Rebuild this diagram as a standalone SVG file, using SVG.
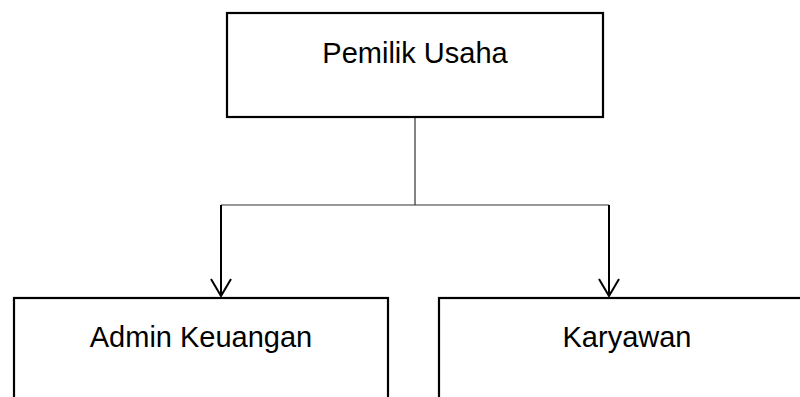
<svg xmlns="http://www.w3.org/2000/svg" width="800" height="397" viewBox="0 0 800 397">
<defs>
<style>
.box{fill:#fff;stroke:#000;stroke-width:2.2}
.lbl{font-family:"Liberation Sans",Arial,sans-serif;font-size:29px;fill:#000;text-anchor:middle}
.thin{fill:none;stroke:#333;stroke-width:1.2}
.thick{fill:none;stroke:#000;stroke-width:2}
</style>
</defs>
<rect width="800" height="397" fill="#fff"/>
<g id="connectors">
<path class="thin" d="M415 117 V205 M221 205 H609"/>
<path class="thick" d="M221 205 V296 M211 279 L221 296 L231 279"/>
<path class="thick" d="M609 205 V296 M599 279 L609 296 L619 279"/>
</g>
<g id="pemilik-usaha">
<rect class="box" x="227" y="13" width="376" height="104"/>
<text class="lbl" x="415" y="63">Pemilik Usaha</text>
</g>
<g id="admin-keuangan">
<rect class="box" x="14" y="298" width="374" height="110"/>
<text class="lbl" x="201" y="347">Admin Keuangan</text>
</g>
<g id="karyawan">
<rect class="box" x="439" y="298" width="376" height="110"/>
<text class="lbl" x="627" y="347">Karyawan</text>
</g>
</svg>
